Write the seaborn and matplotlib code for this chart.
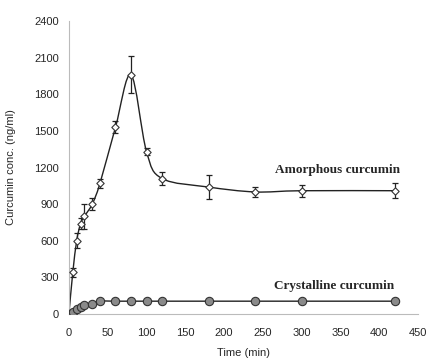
import numpy as np
import pandas as pd
import matplotlib
matplotlib.use("Agg")
import matplotlib.pyplot as plt
from matplotlib.path import Path
from matplotlib.patches import PathPatch
import seaborn as sns

# ---- data ----
time_min = [0, 5, 10, 15, 20, 30, 40, 60, 80, 100, 120, 180, 240, 300, 420]
amorphous = [0, 340, 600, 740, 800, 900, 1070, 1530, 1960, 1330, 1110, 1040, 1000, 1010, 1010]
amorphous_err = [0, 40, 60, 45, 100, 50, 40, 50, 150, 30, 50, 100, 40, 50, 60]
crystalline = [0, 20, 40, 55, 70, 80, 105, 105, 105, 105, 105, 105, 105, 105, 105]
crystalline_err = [0, 5, 5, 5, 5, 5, 5, 5, 5, 5, 5, 5, 5, 5, 5]
x_ticks = [0, 50, 100, 150, 200, 250, 300, 350, 400, 450]
y_ticks = [0, 300, 600, 900, 1200, 1500, 1800, 2100, 2400]

sns.set_theme(style="white")
plt.rcParams['font.family'] = ['Liberation Sans', 'DejaVu Sans']

df = pd.DataFrame({
    "time": time_min * 2,
    "conc": amorphous + crystalline,
    "err": amorphous_err + crystalline_err,
    "form": ["Amorphous"] * len(time_min) + ["Crystalline"] * len(time_min),
})

fig = plt.figure(figsize=(4.28, 3.63), dpi=100)
ax = fig.add_axes([0.161, 0.135, 0.816, 0.807])


def smooth_path(xs, ys):
    """Excel-style smoothed line rendered as cubic Bezier segments through the points."""
    pts = np.column_stack([xs, ys]).astype(float)
    n = len(pts)
    verts = [pts[0]]
    codes = [Path.MOVETO]
    for i in range(n - 1):
        p0 = pts[i - 1] if i > 0 else pts[i]
        p1 = pts[i]
        p2 = pts[i + 1]
        p3 = pts[i + 2] if i + 2 < n else pts[i + 1]
        c1 = p1 + (p2 - p0) / 6.0
        c2 = p2 - (p3 - p1) / 6.0
        verts += [c1, c2, p2]
        codes += [Path.CURVE4] * 3
    return Path(verts, codes)


for form in ["Amorphous", "Crystalline"]:
    sub = df[df.form == form]
    ax.add_patch(PathPatch(smooth_path(sub.time.values, sub.conc.values),
                           facecolor="none", edgecolor="#222222", lw=1.0, zorder=2))
    ax.errorbar(sub.time, sub.conc, yerr=sub.err, fmt="none", ecolor="#222222",
                elinewidth=0.9, capsize=2, capthick=0.9, zorder=3)

sns.scatterplot(data=df[df.form == "Amorphous"], x="time", y="conc", marker="D",
                s=14, color="white", edgecolor="#333333", linewidth=0.8, ax=ax, zorder=4)
sns.scatterplot(data=df[df.form == "Crystalline"], x="time", y="conc", marker="o",
                s=36, color="#8a8a8a", edgecolor="#333333", linewidth=0.8, ax=ax, zorder=4)

ax.set_xlim(0, 450)
ax.set_ylim(0, 2400)
ax.set_xticks(x_ticks)
ax.set_yticks(y_ticks)
ax.set_xticklabels([str(t) for t in x_ticks], fontsize=8)
ax.set_yticklabels([str(t) for t in y_ticks], fontsize=8)
ax.set_xlabel("Time (min)", fontsize=8, labelpad=7)
ax.set_ylabel("Curcumin conc. (ng/ml)", fontsize=8, labelpad=13)

for s in ["top", "right"]:
    ax.spines[s].set_visible(False)
for s in ["left", "bottom"]:
    ax.spines[s].set_color("#bbbbbb")
    ax.spines[s].set_linewidth(0.8)
ax.tick_params(axis="y", direction="out", length=4, color="#bbbbbb", width=0.8, pad=3)
ax.tick_params(axis="x", direction="in", length=4, color="#bbbbbb", width=0.8, pad=10)

ax.text(346, 1180, "Amorphous curcumin", family="Liberation Serif", fontweight="bold",
        fontsize=9.5, ha="center", va="center")
ax.text(342, 230, "Crystalline curcumin", family="Liberation Serif", fontweight="bold",
        fontsize=9.5, ha="center", va="center")

fig.savefig("out.png", dpi=100)
